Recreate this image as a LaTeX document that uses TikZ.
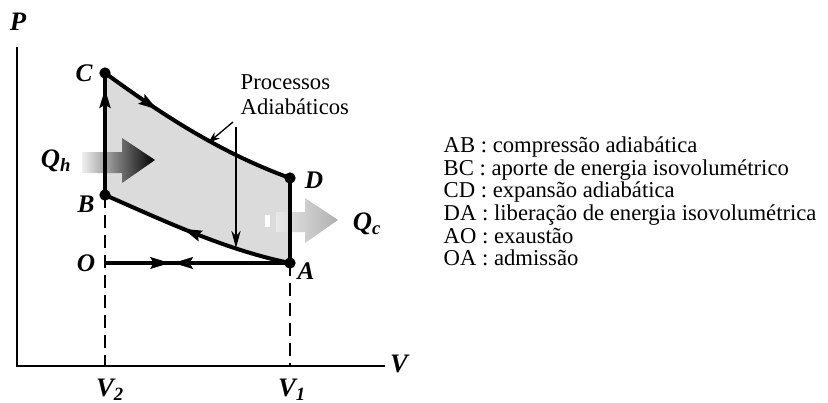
\documentclass[tikz,border=0pt]{standalone}
\usepackage{fontspec}
\setmainfont{Liberation Serif}
\usetikzlibrary{arrows.meta,decorations.markings}

\tikzset{
  dot/.style={circle,fill,inner sep=0pt,minimum size=8.5pt},
  ptlabel/.style={font=\fontsize{19}{22}\selectfont\bfseries\itshape},
  axlabel/.style={font=\fontsize{20}{23}\selectfont\bfseries\itshape},
  cycleline/.style={line width=3pt},
  guide/.style={dashed,line width=1.5pt,dash pattern=on 10pt off 5pt},
  midarrow/.style={postaction={decorate},decoration={markings,
      mark=at position #1 with {\arrow{Stealth[length=14pt,width=8pt,inset=2pt]}}}},
  backarrow/.style={postaction={decorate},decoration={markings,
      mark=at position #1 with {\arrowreversed{Stealth[length=14pt,width=8pt,inset=2pt]}}}},
}

\begin{document}
\begin{tikzpicture}[x=0.75pt,y=-0.75pt]
  \useasboundingbox (0,0) rectangle (828,403);

  % the four states
  \coordinate (C) at (105,73);
  \coordinate (B) at (105,195);
  \coordinate (D) at (290,178);
  \coordinate (A) at (290,263);
  \coordinate (O) at (105,263);

  % shaded cycle
  \fill[gray!28] (C) .. controls (148,104) and (212,150) .. (D)
    -- (A) .. controls (225,250) and (160,219) .. (B) -- cycle;

  % axes
  \coordinate (orig) at (17,366);
  \coordinate (ptop) at (17,47);
  \coordinate (vend) at (385,366);
  \draw[line width=2.2pt] (ptop) -- (orig) -- (vend);
  \node[axlabel] (Plab) at (18,22) {P};
  \node[axlabel] (Vlab) at (399,364) {V};

  \draw[guide] (B) -- (B |- orig);
  \draw[guide] (A) -- (A |- orig);
  \node[axlabel] (V2) at (110,390) {V\textsubscript{2}};
  \node[axlabel] (V1) at (292,390) {V\textsubscript{1}};

  % heat in / heat out
  \shade[left color=gray!12,middle color=black!75,right color=black]
    (82,152) -- (122,152) -- (122,138) -- (155,160) -- (122,183) -- (122,173) -- (82,173) -- cycle;
  \fill[white] (265,215) rectangle (270,227);
  \shade[left color=gray!18,right color=gray!62]
    (276,212) -- (305,212) -- (305,198) -- (338,220) -- (305,243) -- (305,232) -- (276,232) -- cycle;

  % cycle
  \draw[cycleline,midarrow=0.3] (C) .. controls (148,104) and (212,150) .. (D);
  \draw[cycleline] (D) -- (A);
  \draw[cycleline,midarrow=0.57] (A) .. controls (225,250) and (160,219) .. (B);
  \draw[cycleline,midarrow=0.87] (B) -- (C);
  \draw[cycleline,midarrow=0.35,backarrow=0.37] (O) -- (A);
  \foreach \p in {A,B,C,D}
    \node[dot] (\p dot) at (\p) {};

  \node[ptlabel] (Clab) at (84,73) {C};
  \node[ptlabel] (Blab) at (86,204) {B};
  \node[ptlabel] (Olab) at (86,263) {O};
  \node[ptlabel] (Dlab) at (314,180) {D};
  \node[ptlabel] (Alab) at (306,271) {A};
  \node[axlabel] (Qh) at (56,161) {Q\textsubscript{h}};
  \node[axlabel] (Qc) at (367,224) {Q\textsubscript{c}};

  % adiabats note
  \node[anchor=west,align=left,font=\fontsize{17}{19}\selectfont] (note) at (236,95)
    {Processos\\Adiabáticos};
  \coordinate (tipCD) at (208,143);
  \coordinate (tipBA) at (236,248);
  \draw[line width=1pt,-{Stealth[length=9pt,width=6pt]}] (233,122) -- (tipCD);
  \draw[line width=1pt,-{Stealth[length=13pt,width=7pt]}] (236,127) -- (tipBA);

  % legend
  \node[anchor=north west,align=left,font=\fontsize{17}{17}\selectfont] (legend) at (439,132)
    {AB : compressão adiabática\\
     BC : aporte de energia isovolumétrico\\
     CD : expansão adiabática\\
     DA : liberação de energia isovolumétrica\\
     AO : exaustão\\
     OA : admissão};
\end{tikzpicture}
\end{document}
